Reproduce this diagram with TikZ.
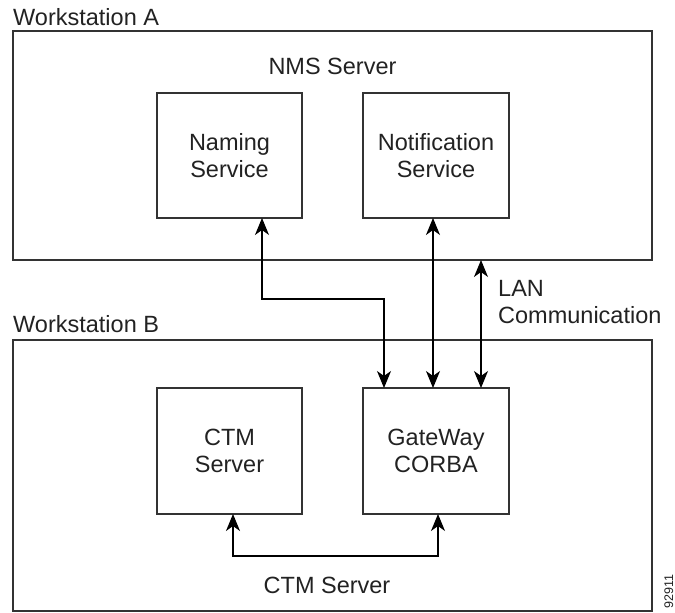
\documentclass[tikz,border=0pt]{standalone}
\usepackage{fontspec}
\setmainfont{Liberation Sans}
\usetikzlibrary{arrows.meta}
\definecolor{ink}{HTML}{222222}
\definecolor{edge}{HTML}{333333}
\begin{document}
\begin{tikzpicture}[x=1pt,y=-1pt,
  txt/.style={font=\fontsize{23.5}{27}\selectfont, text=ink},
  box/.style={draw=edge, line width=1.2pt, outer sep=0pt, inner sep=0pt, align=center, txt},
  dbl/.style={line width=1.2pt, draw=black, {Stealth[length=17pt,width=14pt,inset=5pt]}-{Stealth[length=17pt,width=14pt,inset=5pt]}},
  lbl/.style={txt, inner sep=0pt}]
\useasboundingbox (0,0) rectangle (675,613);
% outer boxes
\node[box, minimum width=639pt, minimum height=229pt] (wsA) at (332.5,145.5) {};
\node[box, minimum width=639pt, minimum height=271pt] (wsB) at (332.5,475.5) {};
% inner boxes
\node[box, minimum width=145pt, minimum height=125pt] (naming) at (229.5,155.5) {Naming\\Service};
\node[box, minimum width=146pt, minimum height=125pt] (notif) at (436,155.5) {Notification\\Service};
\node[box, minimum width=145pt, minimum height=126pt] (ctm) at (229.5,451) {CTM\\Server};
\node[box, minimum width=146pt, minimum height=126pt] (gw) at (436,451) {GateWay\\CORBA};
% labels
\node[lbl, anchor=base west] (la) at (13,25) {Workstation A};
\node[lbl, anchor=base west] (lb) at (13,332) {Workstation B};
\node[lbl, anchor=base] (nms) at (332.5,74) {NMS Server};
\node[lbl, anchor=west, align=left] (lan) at (498,302.5) {LAN\\Communication};
\node[lbl, anchor=base] (ctml) at (327,593) {CTM Server};
\node[inner sep=0pt, anchor=base west, rotate=90, text=ink, font=\fontsize{12.5}{14}\selectfont] (num) at (673,609) {92911};
% connectors
\coordinate (c1) at (262,299);
\coordinate (c2) at (384,299);
\coordinate (c3) at (433,300);
\coordinate (c4) at (481,300);
\coordinate (c5) at (233,556);
\coordinate (c6) at (438,556);
\draw[dbl] (naming.south -| c1) -- (c1) -- (c2) -- (gw.north -| c2);
\draw[dbl] (notif.south -| c3) -- (gw.north -| c3);
\draw[dbl] (wsA.south -| c4) -- (gw.north -| c4);
\draw[dbl] (ctm.south -| c5) -- (c5) -- (c6) -- (gw.south -| c6);
\end{tikzpicture}
\end{document}
